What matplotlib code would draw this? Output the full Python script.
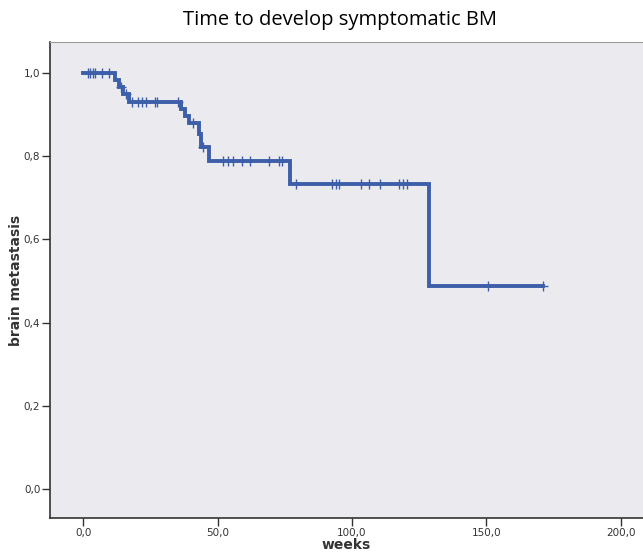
import numpy as np
import matplotlib
matplotlib.use("Agg")
import matplotlib.pyplot as plt
from matplotlib.ticker import FuncFormatter

# step function: time at which each level starts, and the level
event_weeks = [0.0, 12.0, 13.5, 15.0, 17.0, 36.5, 38.0, 39.5, 43.0, 44.0, 47.0, 77.0, 128.6, 171.0]
survival = [1.0, 0.983, 0.966, 0.949, 0.931, 0.914, 0.897, 0.880, 0.853, 0.823, 0.788, 0.733, 0.489, 0.489]

# censored observations (weeks)
censor_weeks = [1.7, 2.6, 3.6, 4.5, 6.9, 9.8, 14.2, 16.0, 18.1, 20.6, 21.8, 23.4, 26.8, 27.6,
                35.2, 41.0, 44.5, 51.9, 54.0, 55.6, 59.0, 62.0, 69.1, 73.0, 74.1,
                79.0, 92.4, 94.0, 95.3, 103.4, 106.4, 110.4, 117.5, 118.8, 120.3, 150.7, 170.9]

line_col = "#3d5ea9"
bg_col = "#ebebef"

fig = plt.figure(figsize=(6.43, 5.55), dpi=100)
ax = fig.add_axes([50/643, 1 - 518/555, 1 - 50/643, (518 - 42)/555])
ax.set_facecolor(bg_col)

ax.step(event_weeks, survival, where="post", color=line_col, lw=2.8, solid_joinstyle="miter")

idx = np.searchsorted(event_weeks, censor_weeks, side="right") - 1
censor_y = np.array(survival)[idx]
ax.plot(censor_weeks, censor_y, ls="none", marker="+", ms=7, mew=1.0, color=line_col)

ax.set_xlim(-12.3, 208.2)
ax.set_ylim(-0.07, 1.075)
ax.set_xticks([0, 50, 100, 150, 200])
ax.set_yticks([0.0, 0.2, 0.4, 0.6, 0.8, 1.0])
ax.xaxis.set_major_formatter(FuncFormatter(lambda v, p: f"{v:.1f}".replace(".", ",")))
ax.yaxis.set_major_formatter(FuncFormatter(lambda v, p: f"{v:.1f}".replace(".", ",")))
ax.tick_params(direction="out", length=5.5, width=1, color="#333333", labelsize=7.5,
               labelcolor="#333333", pad=1.5)

for side in ["left", "bottom"]:
    ax.spines[side].set_color("#333333")
    ax.spines[side].set_linewidth(1.2)
ax.spines["top"].set_color("#9a9a9a")
ax.spines["top"].set_linewidth(0.8)
ax.spines["right"].set_visible(False)

ax.set_xlabel("weeks", fontsize=10, fontweight="bold", color="#333333", labelpad=0)
ax.set_ylabel("brain metastasis", fontsize=10, fontweight="bold", color="#333333", labelpad=0.5)

fig.text(340/643, 1 - 20/555, "Time to develop symptomatic BM", ha="center", va="center",
         fontsize=14.5, family="Open Sans")

fig.savefig("out.png", dpi=100)
